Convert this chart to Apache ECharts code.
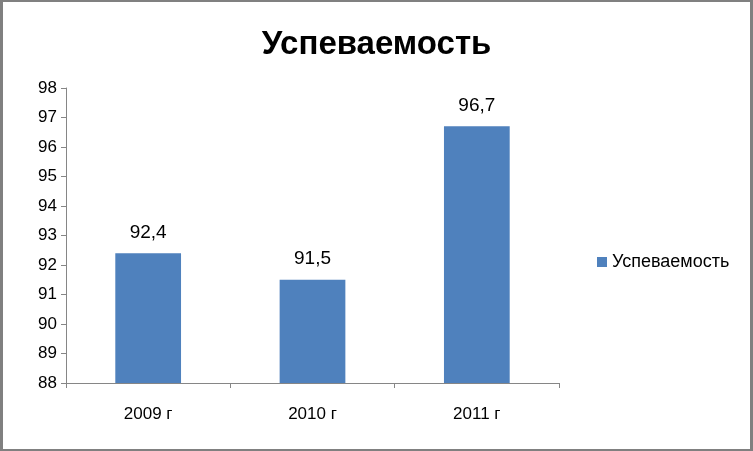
<!DOCTYPE html>
<html>
<head>
<meta charset="utf-8">
<script src="https://cdn.jsdelivr.net/npm/echarts@6/dist/echarts.min.js"></script>
<style>
html,body{margin:0;padding:0;background:#fff;}
#frame{position:absolute;left:0;top:0;width:753px;height:451px;box-sizing:border-box;border-style:solid;border-color:#808080;border-width:2px 3px 2px 3px;}
#chart{width:747px;height:447px;}
</style>
</head>
<body>
<div id="frame"><div id="chart"></div></div>
<script>
const title = 'Успеваемость';
const categories = ['2009 г', '2010 г', '2011 г'];
const seriesName = 'Успеваемость';
const values = [92.4, 91.5, 96.7];
const yMin = 88, yMax = 98, yStep = 1;

const font = "'Liberation Sans', sans-serif";
const chart = echarts.init(document.getElementById('chart'));
chart.setOption({
  animation: false,
  backgroundColor: '#ffffff',
  title: {
    text: title, left: 'center', top: 21,
    textStyle: {fontFamily: font, fontSize: 33, fontWeight: 'bold', color: '#000'}
  },
  legend: {
    left: 589, top: 246, orient: 'vertical',
    itemWidth: 10, itemHeight: 10, itemGap: 6, icon: 'rect',
    textStyle: {fontFamily: font, fontSize: 18, color: '#000'},
    data: [seriesName]
  },
  grid: {left: 63, right: 191, top: 86, bottom: 66, containLabel: false},
  xAxis: {
    type: 'category', data: categories,
    axisLine: {lineStyle: {color: '#868686', width: 1}},
    axisTick: {show: true, alignWithLabel: false, length: 5, lineStyle: {color: '#868686'}},
    axisLabel: {fontFamily: font, fontSize: 17, color: '#000', margin: 23}
  },
  yAxis: {
    type: 'value', min: yMin, max: yMax, interval: yStep,
    splitLine: {show: false},
    axisLine: {show: true, lineStyle: {color: '#868686', width: 1}},
    axisTick: {show: true, length: 5, lineStyle: {color: '#868686'}},
    axisLabel: {fontFamily: font, fontSize: 17, color: '#000', margin: 9}
  },
  series: [{
    name: seriesName, type: 'bar', data: values, barWidth: '40%',
    itemStyle: {color: '#4f81bd'},
    label: {
      show: true, position: 'top', distance: 11,
      fontFamily: font, fontSize: 19, color: '#000',
      formatter: p => String(p.value).replace('.', ',')
    }
  }]
});
</script>
</body>
</html>
